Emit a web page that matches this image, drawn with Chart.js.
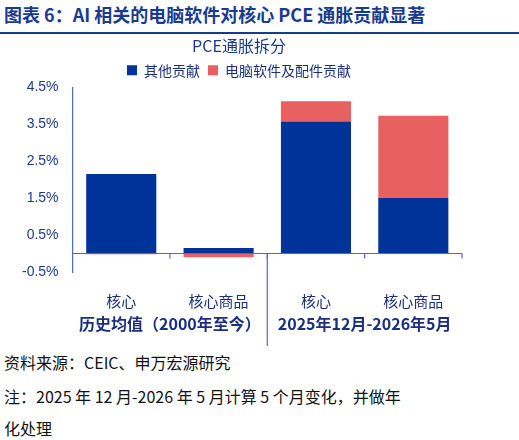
<!DOCTYPE html>
<html><head><meta charset="utf-8">
<script src="https://cdn.jsdelivr.net/npm/chart.js@4"></script>
<style>
body{margin:0;width:519px;height:440px;background:#fff;font-family:"Noto Sans CJK SC","Liberation Sans",sans-serif;position:relative;overflow:hidden}
#hd{position:absolute;left:4px;top:1px;font-size:18px;font-weight:bold;color:#1a3a8f;letter-spacing:0}
#ln{position:absolute;left:0;top:32px;width:519px;height:2px;background:#1a3a8f}
#cv{position:absolute;left:0;top:34px}
.ft{position:absolute;left:4px;font-size:16px;color:#111}
</style></head><body>
<div id="hd">图表 6：AI 相关的电脑软件对核心 PCE 通胀贡献显著</div>
<div id="ln"></div>
<canvas id="cv" width="519" height="312"></canvas>
<div class="ft" style="top:350px">资料来源：CEIC、申万宏源研究</div>
<div class="ft" style="top:384px">注：2025 年 12 月-2026 年 5 月计算 5 个月变化，并做年</div>
<div class="ft" style="top:416px">化处理</div>
<script>
const categories=["核心","核心商品","核心","核心商品"];
const groups=["历史均值（2000年至今）","2025年12月-2026年5月"];
const otherContribution=[2.15,0.15,3.57,1.5];
const softwareContribution=[-0.02,-0.1,0.55,2.23];
const yTicks=[-0.5,0.5,1.5,2.5,3.5,4.5];
const AX='#4a6cc4';
const deco={id:'deco',afterDraw(c){
 const ctx=c.ctx,x=c.scales.x,y=c.scales.y;const y0=y.getPixelForValue(0);
 ctx.save();ctx.strokeStyle=AX;ctx.lineWidth=1.2;
 ctx.beginPath();ctx.moveTo(x.left,y0);ctx.lineTo(x.right,y0);ctx.stroke();
 const w=(x.right-x.left)/4;
 for(let i=1;i<=4;i++){const px=x.left+w*i;ctx.beginPath();ctx.moveTo(px,y0);ctx.lineTo(px,y0+5);ctx.stroke();}
 const mid=x.left+w*2;ctx.beginPath();ctx.moveTo(mid,y0);ctx.lineTo(mid,c.height);ctx.stroke();
 ctx.fillStyle='#1a2f80';ctx.font='bold 16px "Noto Sans CJK SC"';ctx.textAlign='center';ctx.textBaseline='middle';
 ctx.fillText(groups[0],x.left+w,290);ctx.fillText(groups[1],x.left+w*3,290);
 ctx.restore();}};
new Chart(document.getElementById('cv'),{type:'bar',
data:{labels:categories,datasets:[
{label:'其他贡献',data:otherContribution,backgroundColor:'#003399',stack:'s'},
{label:'电脑软件及配件贡献',data:softwareContribution,backgroundColor:'#e86060',stack:'s'}]},
options:{responsive:false,animation:false,
layout:{padding:{left:16,right:57,bottom:24,top:0}},
plugins:{title:{display:true,text:'PCE通胀拆分',color:'#1a3a8f',font:{size:16,family:'Noto Sans CJK SC',weight:'normal'},padding:{top:2,bottom:0}},
legend:{labels:{color:'#1a2f80',boxWidth:10,boxHeight:10,font:{size:14,family:'Noto Sans CJK SC'},padding:8}},tooltip:{enabled:false}},
scales:{x:{stacked:true,grid:{display:false},border:{display:false},ticks:{color:'#1a2f80',font:{size:15,family:'Noto Sans CJK SC'},padding:12},categoryPercentage:1,barPercentage:0.4},
y:{stacked:true,min:-0.5,max:4.5,afterBuildTicks(s){s.ticks=yTicks.map(v=>({value:v}));},
grid:{display:false,drawTicks:true},border:{color:AX,width:1.2},
ticks:{color:'#1a3a8f',font:{size:14,family:'Liberation Sans'},callback:v=>v.toFixed(1)+'%',padding:6}}}},
plugins:[deco]});
</script></body></html>
